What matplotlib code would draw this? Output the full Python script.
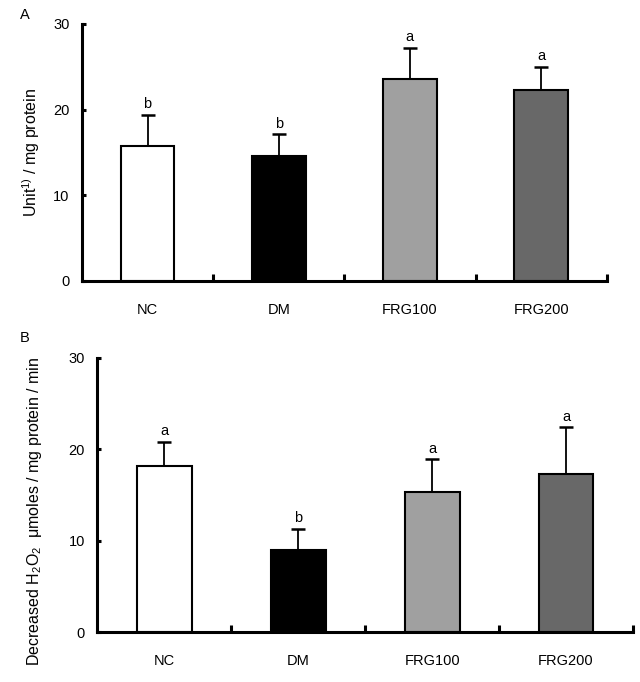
import numpy as np
import matplotlib.pyplot as plt

plt.rcParams['font.family'] = ['Liberation Sans', 'DejaVu Sans']
plt.rcParams['mathtext.fontset'] = 'custom'
plt.rcParams['mathtext.rm'] = 'Liberation Sans'
plt.rcParams['mathtext.it'] = 'Liberation Sans'

groups = ['NC', 'DM', 'FRG100', 'FRG200']
colors = ['white', 'black', '#a0a0a0', '#686868']

a_vals = [15.7, 14.6, 23.6, 22.3]
a_err = [3.7, 2.5, 3.6, 2.7]
a_sig = ['b', 'b', 'a', 'a']

b_vals = [18.2, 9.0, 15.3, 17.3]
b_err = [2.6, 2.3, 3.6, 5.1]
b_sig = ['a', 'b', 'a', 'a']

fig = plt.figure(figsize=(6.4, 6.82), dpi=100)


def panel(ax, vals, err, sig, ylabel):
    x = np.arange(len(groups)) + 0.5
    ax.bar(x, vals, width=0.41, color=colors, edgecolor='black', linewidth=1.5, zorder=2)
    ax.errorbar(x, vals, yerr=[np.zeros(len(vals)), err], fmt='none', ecolor='black',
                elinewidth=1.3, capsize=5, capthick=1.8, zorder=1)
    for xi, v, e, s in zip(x, vals, err, sig):
        ax.text(xi, v + e + 0.4, s, ha='center', va='bottom', fontsize=10.5)
    ax.set_xlim(0, 4)
    ax.set_ylim(0, 30)
    ax.set_yticks([0, 10, 20, 30])
    ax.set_xticks([1, 2, 3, 4])
    ax.set_xticklabels([])
    ax.set_xticks(x, minor=True)
    ax.set_xticklabels(groups, minor=True, fontsize=10.5)
    ax.tick_params(axis='x', which='minor', length=0, pad=16)
    ax.tick_params(axis='x', which='major', direction='in', length=5, width=2.2)
    ax.tick_params(axis='y', direction='in', length=3, width=2.2, labelsize=10.5, pad=9)
    for s in ['top', 'right']:
        ax.spines[s].set_visible(False)
    for s in ['left', 'bottom']:
        ax.spines[s].set_linewidth(2.2)
    ax.set_ylabel(ylabel, fontsize=11.5)


ax1 = fig.add_axes([0.128, 0.588, 0.820, 0.377])
panel(ax1, a_vals, a_err, a_sig, r'Unit$^{1)}$ / mg protein')
ax1.yaxis.set_label_coords(-0.076, 0.5)

ax2 = fig.add_axes([0.152, 0.0733, 0.837, 0.402])
panel(ax2, b_vals, b_err, b_sig, r'Decreased H$_2$O$_2$  μmoles / mg protein / min')
ax2.yaxis.set_label_coords(-0.1, 0.44)

fig.text(0.031, 0.978, 'A', fontsize=10.5, va='center')
fig.text(0.031, 0.504, 'B', fontsize=10.5, va='center')

fig.savefig('out.png', dpi=100)
